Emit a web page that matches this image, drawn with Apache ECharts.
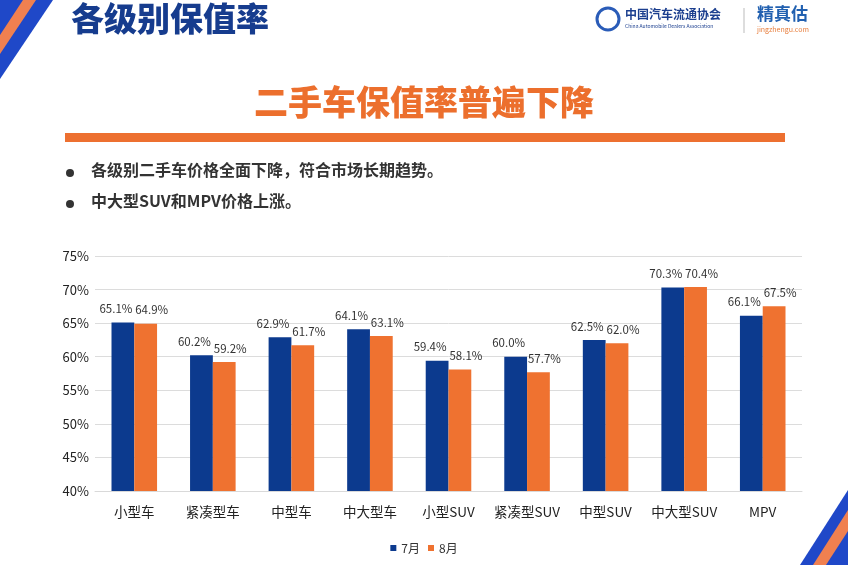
<!DOCTYPE html>
<html>
<head>
<meta charset="utf-8">
<script src="https://cdn.jsdelivr.net/npm/echarts@6/dist/echarts.min.js"></script>
<style>html,body{margin:0;padding:0;background:#fff;}#c{width:848px;height:565px;}</style>
</head>
<body>
<div id="c"></div>
<script>
var categories = ['小型车','紧凑型车','中型车','中大型车','小型SUV','紧凑型SUV','中型SUV','中大型SUV','MPV'];
var julValues = [65.1, 60.2, 62.9, 64.1, 59.4, 60.0, 62.5, 70.3, 66.1];
var augValues = [64.9, 59.2, 61.7, 63.1, 58.1, 57.7, 62.0, 70.4, 67.5];
var seriesNames = ['7月','8月'];
var yTicks = {min: 40, max: 75, interval: 5};

var FONT = '"Noto Sans CJK SC", "Noto Sans", sans-serif';
var BLUE = '#0c3a8e';
var ORANGE = '#ef7230';

function pct(p){ return p.value.toFixed(1) + '%'; }

var chart = echarts.init(document.getElementById('c'));
chart.setOption({
  backgroundColor: '#ffffff',
  animation: false,
  textStyle: {fontFamily: FONT},
  grid: {left: 95, right: 46, top: 256, bottom: 74},
  legend: {
    data: seriesNames, bottom: 6, left: 'center',
    itemWidth: 6, itemHeight: 6, itemGap: 8, icon: 'rect',
    textStyle: {fontSize: 12, color: '#333', fontFamily: FONT}
  },
  xAxis: {
    type: 'category', data: categories,
    axisLine: {show: true, lineStyle: {color: '#d9d9d9'}},
    axisTick: {show: false},
    axisLabel: {interval: 0, fontSize: 13.5, color: '#222', margin: 14, fontFamily: FONT}
  },
  yAxis: {
    type: 'value', min: yTicks.min, max: yTicks.max, interval: yTicks.interval,
    axisLine: {show: false}, axisTick: {show: false},
    splitLine: {lineStyle: {color: '#dcdcdc'}},
    axisLabel: {fontSize: 13, color: '#222', margin: 6, formatter: '{value}%', fontFamily: FONT}
  },
  series: [
    {name: seriesNames[0], type: 'bar', data: julValues, barWidth: '29%', barGap: '0%',
     itemStyle: {color: BLUE},
     label: {show: true, position: 'top', distance: 8, offset: [-7, 0], fontSize: 11.5, color: '#333', formatter: pct}},
    {name: seriesNames[1], type: 'bar', data: augValues, barWidth: '29%',
     itemStyle: {color: ORANGE},
     label: {show: true, position: 'top', distance: 8, offset: [6, 0], fontSize: 11.5, color: '#333', formatter: pct}}
  ],
  graphic: [
    {type: 'polygon', shape: {points: [[0,0],[53,0],[0,79]]}, style: {fill: '#1f48c8'}},
    {type: 'polygon', shape: {points: [[23,0],[36,0],[0,54],[0,35]]}, style: {fill: '#f08050'}},
    {type: 'polygon', shape: {points: [[848,490],[848,565],[800,565]]}, style: {fill: '#1f48c8'}},
    {type: 'polygon', shape: {points: [[813,565],[826,565],[848,531],[848,510]]}, style: {fill: '#f08050'}},
    {type: 'text', left: 71, top: 2, style: {text: '各级别保值率', font: '900 33px ' + FONT, fill: '#163c8e'}},
    {type: 'circle', shape: {cx: 608, cy: 19, r: 11}, style: {fill: 'none', stroke: '#2a5cb8', lineWidth: 3}},
    {type: 'text', left: 625, top: 8, style: {text: '中国汽车流通协会', font: 'bold 12px ' + FONT, fill: '#1c3f8f'}},
    {type: 'text', left: 625, top: 24, style: {text: 'China Automobile Dealers Association', font: '5px ' + FONT, fill: '#1c3f8f'}},
    {type: 'line', shape: {x1: 744, y1: 8, x2: 744, y2: 33}, style: {stroke: '#bbb', lineWidth: 1}},
    {type: 'text', left: 757, top: 5, style: {text: '精真估', font: 'bold 17px ' + FONT, fill: '#2160b0'}},
    {type: 'text', left: 757, top: 26, style: {text: 'jingzhengu.com', font: '7px ' + FONT, fill: '#e88040'}},
    {type: 'text', left: 'center', top: 85, style: {text: '二手车保值率普遍下降', font: '900 34px ' + FONT, fill: '#ec6f2d'}},
    {type: 'rect', shape: {x: 65, y: 133, width: 720, height: 9}, style: {fill: '#ed7030'}},
    {type: 'circle', shape: {cx: 70, cy: 173, r: 4}, style: {fill: '#333'}},
    {type: 'text', left: 91, top: 162, style: {text: '各级别二手车价格全面下降，符合市场长期趋势。', font: 'bold 16px ' + FONT, fill: '#333'}},
    {type: 'circle', shape: {cx: 70, cy: 204, r: 4}, style: {fill: '#333'}},
    {type: 'text', left: 91, top: 193, style: {text: '中大型SUV和MPV价格上涨。', font: 'bold 16px ' + FONT, fill: '#333'}}
  ]
});
</script>
</body>
</html>
